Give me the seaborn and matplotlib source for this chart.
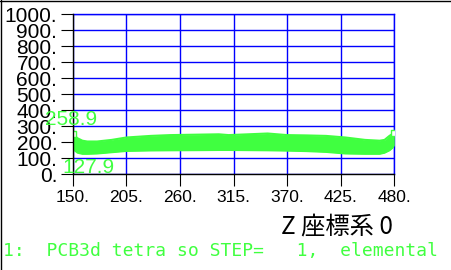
import matplotlib
matplotlib.use("Agg")
import matplotlib.pyplot as plt
import matplotlib.ticker as mticker
from matplotlib.lines import Line2D
import seaborn as sns
import pandas as pd

# ---- data ----
z_pos = [150, 152, 155, 160, 165, 175, 190, 205, 230, 250, 280, 300, 310, 330, 350,
         370, 390, 410, 430, 450, 465, 470, 475, 478, 480]
upper = [255, 240, 225, 210, 205, 205, 215, 230, 240, 245, 248, 250, 245, 250, 255,
         245, 243, 240, 230, 215, 210, 215, 240, 252, 258.9]
lower = [175, 150, 135, 128, 127.9, 130, 138, 146, 149, 150, 151, 152, 152, 151, 150,
         148, 145, 140, 130, 128, 128, 135, 150, 165, 180]
x_ticks = [150, 205, 260, 315, 370, 425, 480]
x_tick_labels = ["150.", "205.", "260.", "315.", "370.", "425.", "480."]
y_ticks = [0, 100, 200, 300, 400, 500, 600, 700, 800, 900, 1000]
y_tick_labels = ["0.", "100.", "200.", "300.", "400.", "500.", "600.", "700.", "800.", "900.", "1000."]
max_label = "258.9"
min_label = "127.9"
x_title = "Z 座標系 0"
legend_text = "1:  PCB3d tetra so STEP=   1,  elemental"

GREEN = "#40ff40"
BLUE = "#0000ff"

sns.set_style("white")
plt.rcParams["font.family"] = ["Liberation Sans", "Noto Sans CJK JP", "DejaVu Sans"]

fig = plt.figure(figsize=(4.51, 2.70), dpi=100)
fig.patch.set_facecolor("white")
W, H = 451.0, 270.0
ax = fig.add_axes([72.7 / W, 1 - 174.3 / H, (394.3 - 72.7) / W, (174.3 - 14.3) / H])
ax.set_facecolor("white")

df = pd.DataFrame({"z": z_pos, "upper": upper, "lower": lower})
ax.fill_between(df["z"], df["lower"], df["upper"], color=GREEN, linewidth=0, zorder=3)
sns.lineplot(data=df, x="z", y="upper", ax=ax, color=GREEN, linewidth=1.5, zorder=4)
sns.lineplot(data=df, x="z", y="lower", ax=ax, color=GREEN, linewidth=1.5, zorder=4)
ax.scatter([df["z"].iloc[0], df["z"].iloc[-1]], [df["upper"].iloc[0], df["upper"].iloc[-1]],
           marker="s", s=22, facecolors="white", edgecolors=GREEN, linewidths=1.0, zorder=5)

ax.set_xlim(150, 480)
ax.set_ylim(0, 1000)
ax.xaxis.set_major_locator(mticker.FixedLocator(x_ticks))
ax.yaxis.set_major_locator(mticker.FixedLocator(y_ticks))
ax.set_xticklabels(x_tick_labels)
ax.set_yticklabels(y_tick_labels)
ax.grid(True, color=BLUE, linewidth=1.0)
ax.set_axisbelow(True)
ax.set_xlabel("")
ax.set_ylabel("")

for side in ["top", "right"]:
    ax.spines[side].set_color(BLUE)
    ax.spines[side].set_linewidth(1.0)
for side in ["left", "bottom"]:
    ax.spines[side].set_color("black")
    ax.spines[side].set_linewidth(1.0)
    ax.spines[side].set_zorder(6)

ax.tick_params(axis="y", direction="out", length=8.6, width=0.8, color="black",
               labelsize=15, pad=2.5, left=True)
ax.tick_params(axis="x", direction="out", length=8.6, width=0.8, color="black",
               labelsize=12.5, pad=3, bottom=True)
for lab in ax.get_yticklabels():
    lab.set_color("black")
for lab in ax.get_xticklabels():
    lab.set_color("black")

fig.text(45 / W, 1 - 119.5 / H, max_label, color=GREEN, fontsize=15, ha="left", va="center", zorder=10)
fig.text(62 / W, 1 - 167.7 / H, min_label, color=GREEN, fontsize=15, ha="left", va="center", zorder=10)
fig.text(393 / W, 1 - 226 / H, x_title, color="black", fontsize=17.5, ha="right", va="center",
         family=["Noto Sans CJK JP", "DejaVu Sans"])
fig.text(3 / W, 1 - 251.5 / H, legend_text, color=GREEN, fontsize=13.0, ha="left", va="center",
         family=["DejaVu Sans Mono"])

# frame lines at top and left edges of image
fig.add_artist(Line2D([0, 1], [1 - 0.5 / H, 1 - 0.5 / H], color="black", linewidth=1.0, transform=fig.transFigure))
fig.add_artist(Line2D([0.5 / W, 0.5 / W], [0, 1], color="black", linewidth=1.0, transform=fig.transFigure))

fig.savefig("out.png", dpi=100)
